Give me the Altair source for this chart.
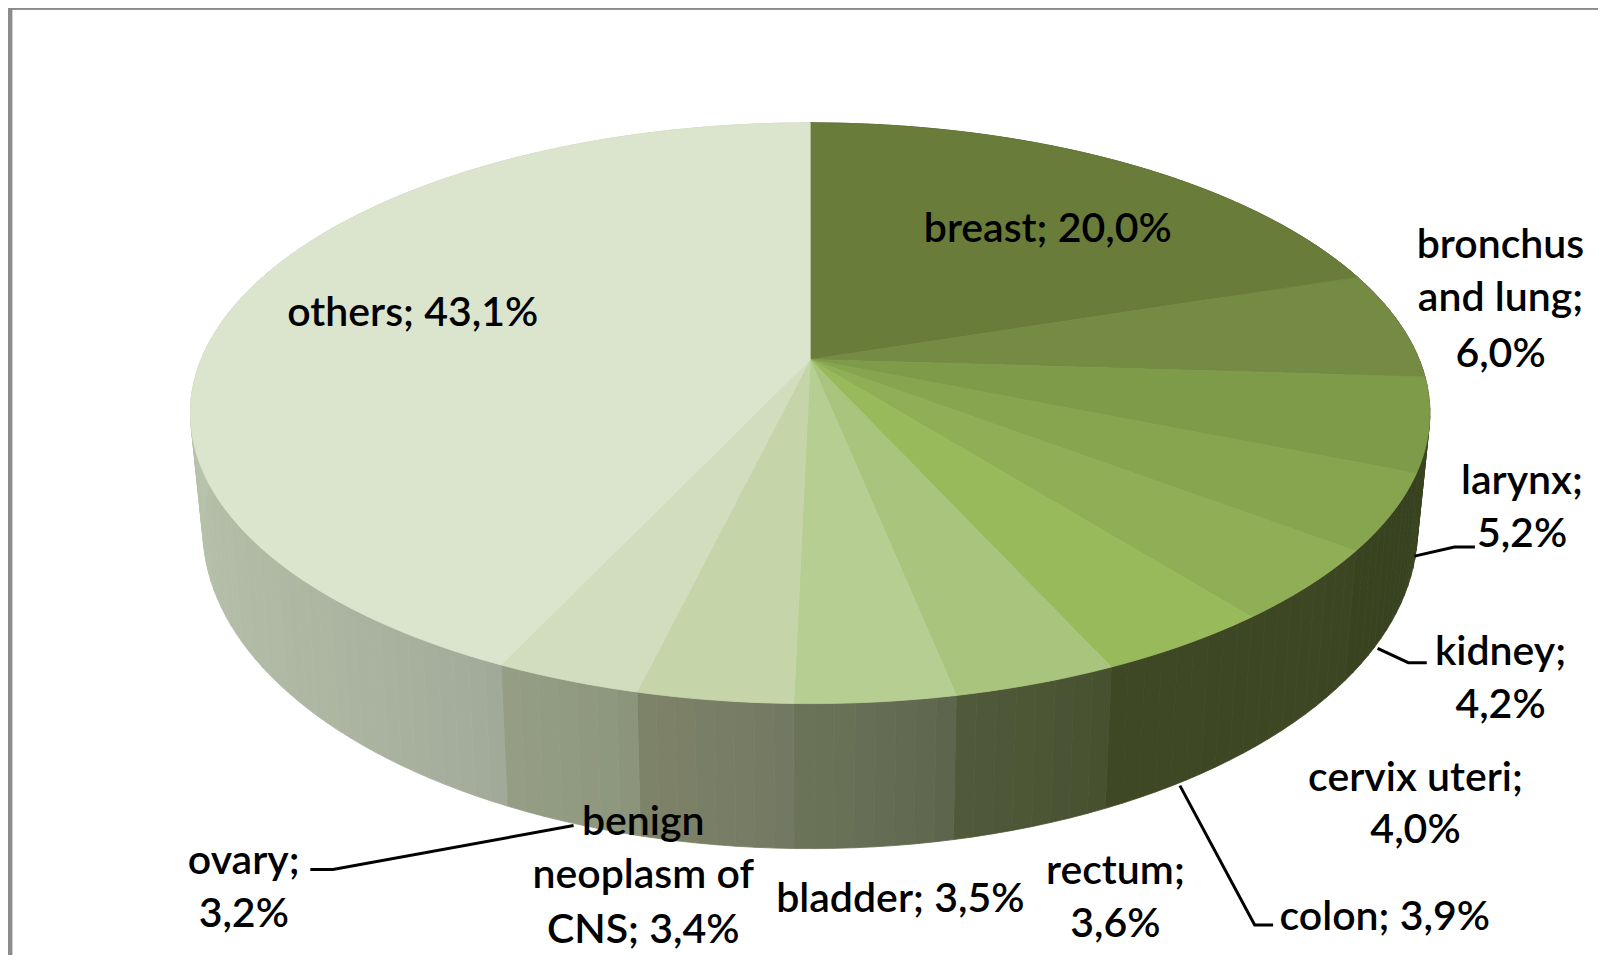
import math
import altair as alt

# ---- data ----
categories = ["breast", "bronchus and lung", "larynx", "kidney", "cervix uteri", "colon",
              "rectum", "bladder", "benign neoplasm of CNS", "ovary", "others"]
values = [20.0, 6.0, 5.2, 4.2, 4.0, 3.9, 3.6, 3.5, 3.4, 3.2, 43.1]
top_colors = ["#697c39", "#758a43", "#7e9b4a", "#87a44f", "#8fae55", "#99ba5a",
              "#a9c47d", "#b7ce92", "#c5d5a9", "#d1ddbc", "#dbe5cd"]
wall_start = ["#3a4420", "#3a4420", "#3a4420", "#384120", "#3c4622", "#3d4723",
              "#454f2e", "#5a624a", "#717660", "#8a9379", "#9fa897"]
wall_end = ["#3a4420", "#3a4420", "#3a4420", "#3a4320", "#3d4723", "#3e4824",
            "#505a3a", "#6b7359", "#7d8368", "#959f85", "#bcc6ae"]
label_lines = [["breast; 20,0%"], ["bronchus", "and lung;", "6,0%"], ["larynx;", "5,2%"],
               ["kidney;", "4,2%"], ["cervix uteri;", "4,0%"], ["colon; 3,9%"],
               ["rectum;", "3,6%"], ["bladder; 3,5%"], ["benign", "neoplasm of", "CNS; 3,4%"],
               ["ovary;", "3,2%"], ["others; 43,1%"]]

# ---- layout (reference pixels, 1568-wide view) ----
K = 1606 / 1568
label_centers = [1023, 1465, 1486, 1465, 1382, 1352, 1089, 879, 628, 238, 403]
label_baselines = [[236], [252, 304, 358], [482, 534], [649, 701], [772, 823], [908],
                   [863, 915], [890], [815, 867, 921], [853, 905], [318]]
leaders = [[(1381, 543), (1420, 534), (1440, 534)],
           [(1345, 633), (1375, 647), (1393, 647)],
           [(1152, 767), (1225, 903), (1243, 903)],
           [(560, 806), (325, 849), (303, 849)]]
CX, CY, A, B, P = 791.0, 351.0, 594.6, 273.8, 0.185
WALL_SX, WALL_SY, WALL_D = 0.98, 1.10, 108.0
STEP = 1.5
GRADIENT_POWER = 0.6
VISIBLE_END = 1.5 * math.pi + 0.1


def px(x, y):
    return [x * K - 8, y * K - 8]


def rim(theta):
    X, Y = math.sin(theta), math.cos(theta)
    d = 1 + P * Y
    return CX + A * X / d, CY - B * Y / d


def low(theta):
    x, y = rim(theta)
    return CX + (x - CX) * WALL_SX, CY + WALL_D + (y - CY) * WALL_SY


def mix(c1, c2, t):
    a = [int(c1[i:i + 2], 16) for i in (1, 3, 5)]
    b = [int(c2[i:i + 2], 16) for i in (1, 3, 5)]
    return "#%02x%02x%02x" % tuple(round(p + (q - p) * t) for p, q in zip(a, b))


def feat(kind, coords, color):
    return {"type": "Feature", "properties": {"c": color},
            "geometry": {"type": kind, "coordinates": coords}}


total = sum(values)
edges = [0.0]
for v in values:
    edges.append(edges[-1] + v / total * 2 * math.pi)

shapes = []
# walls: the top surface is drawn over whatever lies behind it
for i in range(len(values)):
    t0, t1 = edges[i], edges[i + 1]
    n = max(1, int(math.degrees(t1 - t0) / STEP))
    span = min(t1, VISIBLE_END) - t0
    for j in range(n):
        a0 = t0 + (t1 - t0) * j / n
        a1 = t0 + (t1 - t0) * (j + 1) / n
        ring = [px(*rim(a0)), px(*rim(a1)), px(*low(a1)), px(*low(a0))]
        ring.append(ring[0])
        t = min(1.0, ((a0 + a1) / 2 - t0) / span) ** GRADIENT_POWER
        shapes.append(feat("Polygon", [ring], mix(wall_start[i], wall_end[i], t)))
# top surface
for i in range(len(values)):
    t0, t1 = edges[i], edges[i + 1]
    n = max(2, int(math.degrees(t1 - t0)))
    ring = [px(CX, CY)] + [px(*rim(t0 + (t1 - t0) * j / n)) for j in range(n + 1)]
    ring.append(ring[0])
    shapes.append(feat("Polygon", [ring], top_colors[i]))
# frame
FRAME = "#8c8c8c"
shapes.append(feat("Polygon", [[[0, 0], [4, 0], [4, 947], [0, 947], [0, 0]]], FRAME))
shapes.append(feat("Polygon", [[[0, 0], [1590, 0], [1590, 1.5], [0, 1.5], [0, 0]]], FRAME))

lines = [feat("LineString", [px(*p) for p in pts], "#000000") for pts in leaders]

texts = []
for name, ls, cx, bs in zip(categories, label_lines, label_centers, label_baselines):
    for line, b in zip(ls, bs):
        lon, lat = px(cx, b)
        texts.append({"category": name, "text": line, "lon": lon, "lat": lat})

proj = alt.Projection(type="identity", scale=1, translate=[0, 0])

shape_layer = alt.Chart(alt.Data(values=shapes)).mark_geoshape(strokeWidth=0.8).encode(
    color=alt.Color("properties.c:N", scale=None),
    stroke=alt.Stroke("properties.c:N", scale=None),
).project(**proj.to_dict())

line_layer = alt.Chart(alt.Data(values=lines)).mark_geoshape(
    filled=False, stroke="#000000", strokeWidth=3).project(**proj.to_dict())

text_layer = alt.Chart(alt.Data(values=texts)).mark_text(
    font="Lato", fontSize=41, fontWeight=600, align="center", baseline="alphabetic", color="#000000",
).encode(longitude="lon:Q", latitude="lat:Q", text="text:N").project(**proj.to_dict())

chart = alt.layer(shape_layer, line_layer, text_layer).properties(
    width=1590, height=947, padding=0, background="#ffffff",
    autosize=alt.AutoSizeParams(type="none"),
).configure_view(stroke=None)

chart.save("out.html", embed_options={"renderer": "svg", "actions": False})
